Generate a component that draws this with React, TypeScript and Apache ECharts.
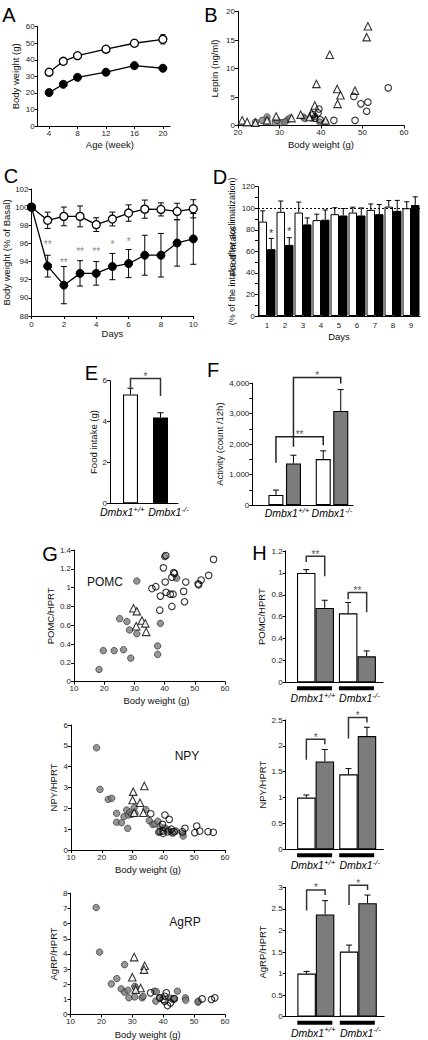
import React, { useEffect, useRef } from "react";
import * as echarts from "echarts";

const FONT = '"Liberation Sans", Arial, Helvetica, sans-serif';

// ===== Panel A: body weight vs age =====
const ageWeeks = [4, 6, 8, 12, 16, 20];
const ageTickValues = [4, 8, 12, 16, 20];
const aWtMean = [32.5, 39.1, 42.5, 46.4, 50.0, 52.4];
const aWtErr = [1.0, 1.0, 1.0, 1.2, 1.8, 2.8];
const aKoMean = [20.2, 25.2, 29.4, 32.5, 36.5, 34.9];
const aKoErr = [0.8, 1.0, 1.0, 1.0, 1.4, 1.4];

// ===== Panel B: leptin vs body weight [g, ng/ml] =====
const bTriangles = [
  [51.3, 17.4], [51.0, 15.5], [42.1, 12.4], [38.9, 7.3], [43.9, 6.4], [44.7, 5.3], [44.0, 3.8],
  [48.2, 6.1], [38.5, 3.5], [41.1, 0.9], [21.0, 0.9], [22.2, 0.6], [24.2, 0.5], [29.2, 1.6],
  [27.0, 0.9], [32.9, 1.3], [35.1, 1.9], [37.7, 2.2], [37.3, 1.5],
];
const bOpen = [
  [56.2, 6.6], [47.9, 5.1], [49.6, 3.8], [51.3, 4.1], [51.0, 2.5], [48.2, 0.9], [43.1, 0.9],
  [39.5, 2.9], [39.3, 2.2], [38.5, 1.3], [39.8, 1.0], [38.1, 1.9],
];
const bGray = [
  [27.0, 1.5], [27.0, 0.8], [25.8, 0.9], [24.2, 0.6], [29.0, 0.5], [30.6, 0.5], [31.9, 1.0],
  [32.5, 1.3], [35.7, 1.5], [36.1, 1.2], [37.7, 1.3], [38.5, 1.6], [39.7, 0.6], [41.0, 0.6],
  [29.4, 0.9], [31.3, 0.6],
];

// ===== Panel C: body weight (% of basal) over days =====
const cDays = [0, 1, 2, 3, 4, 5, 6, 7, 8, 9, 10];
const cWtMean = [100, 98.55, 98.98, 98.98, 98.07, 98.69, 99.35, 99.78, 99.75, 99.53, 99.82];
const cWtErr = [0, 0.9, 1.03, 1.15, 0.76, 0.76, 0.9, 1.0, 0.72, 0.9, 1.0];
const cKoMean = [100, 93.5, 91.4, 92.7, 92.7, 93.45, 93.78, 94.7, 94.7, 96.05, 96.5];
const cKoErr = [0, 1.2, 2.05, 1.4, 1.3, 1.45, 1.55, 2.2, 2.4, 2.55, 2.8];
const cSigDays = [1, 2, 3, 4, 5, 6];
const cSigY = [95.9, 93.9, 95.1, 95.1, 95.9, 96.2];
const cSigText = ["**", "**", "**", "**", "*", "*"];

// ===== Panel D: daily food intake (%) =====
const dDays = ["1", "2", "3", "4", "5", "6", "7", "8", "9"];
const dWtMean = [87.6, 96.7, 96, 89, 94.5, 96, 98.5, 101.5, 100];
const dWtErr = [10, 10, 9.7, 5.5, 6, 5, 5.5, 5.7, 6];
const dKoMean = [62, 66, 85, 89.4, 93.3, 93.3, 94.5, 97.6, 103];
const dKoErr = [10, 6.7, 6, 9, 6.4, 7, 9, 9.7, 7.6];
const dReference = 100;
const dSigIdx = [0, 1];
const dSigY = [77, 78];
const dSigText = ["*", "*"];
const dAxisTitle = ["Food intake", "(% of the intake after acclimatization)"];

// ===== genotype labels =====
const geneName = "Dmbx1";
const genotypes = ["+/+", "-/-"];
const groupPos = [1, 2];

// ===== Panel E: food intake (g) =====
const eMean = [5.33, 4.2];
const eErr = [0.3, 0.23];
const eBrackets = [[1, 0, 5.58, 2, 0, 5.25, 6.11]];
const eBracketText = ["*"];

// ===== Panel F: activity =====
const fWhiteMean = [330, 1510];
const fWhiteErr = [160, 270];
const fGrayMean = [1366, 3093];
const fGrayErr = [270, 700];
const fBrackets = [
  [1, 0, 1387, 2, 0, 1967, 2240],
  [1, 1, 1911, 2, 1, 3990, 4187],
];
const fBracketText = ["**", "*"];

// ===== Panel G: expression vs body weight =====
const gPomcGray = [
  [18.3, 0.13], [19.7, 0.33], [23.3, 0.33], [26.4, 0.34], [28.8, 0.25], [25.1, 0.67], [27.5, 0.64],
  [28.4, 0.55], [30.8, 0.51], [30.8, 1.07], [37.7, 0.38], [37.7, 0.29], [38.6, 0.62], [44.0, 1.1], [40.0, 1.33],
];
const gPomcTri = [[29.7, 0.78], [30.8, 0.75], [32.5, 0.65], [33.6, 0.62], [30.6, 0.59], [33.9, 0.53]];
const gPomcOpen = [
  [35.8, 0.99], [37.1, 1.01], [40.2, 1.06], [40.5, 0.95], [41.9, 0.93], [42.8, 0.93], [38.6, 0.91],
  [38.4, 0.76], [42.4, 0.8], [42.4, 1.11], [43.3, 1.15], [46.3, 0.96], [46.6, 0.85], [47.0, 1.06],
  [51.1, 1.04], [51.3, 1.03], [52.1, 1.08], [54.6, 1.13], [39.6, 1.21], [40.4, 1.34], [43.0, 1.16], [56.2, 1.3],
];
const gNpyGray = [
  [18.3, 4.91], [19.4, 2.91], [22.1, 2.43], [23.2, 2.48], [24.8, 1.76], [24.8, 1.33], [26.4, 1.31],
  [27.2, 1.6], [28.1, 1.92], [28.6, 1.68], [28.4, 1.04], [29.1, 1.81], [29.7, 1.71], [30.5, 2.03],
  [30.8, 1.76], [34.3, 1.94], [35.4, 1.41], [36.5, 1.23], [37.2, 1.25], [38.2, 1.38], [38.9, 1.12],
  [38.4, 0.85], [40.5, 1.06], [41.6, 0.96], [42.6, 0.85], [43.0, 0.88], [44.1, 0.91], [43.0, 0.8],
  [46.3, 0.8], [46.4, 0.67],
];
const gNpyTri = [[30.2, 2.8], [33.8, 3.07], [30.0, 2.4], [32.4, 2.27], [30.5, 1.79], [33.5, 1.79]];
const gNpyOpen = [
  [35.9, 1.74], [40.5, 1.68], [41.9, 1.47], [39.7, 1.23], [39.9, 0.91], [41.4, 0.88], [39.9, 0.8],
  [42.6, 1.0], [43.5, 0.88], [47.0, 1.04], [46.2, 0.88], [50.8, 1.15], [50.2, 0.83], [51.8, 0.91],
  [54.5, 0.88], [56.2, 0.85], [38.9, 0.88],
];
const gAgrpGray = [
  [18.3, 7.06], [19.4, 4.12], [23.2, 2.02], [25.0, 2.37], [27.5, 3.29], [26.4, 1.69], [27.5, 1.47],
  [28.6, 1.6], [28.9, 1.1], [30.8, 1.86], [31.1, 1.75], [30.8, 1.16], [33.2, 1.1], [33.5, 1.2],
  [37.2, 1.54], [37.8, 1.51], [37.6, 0.88], [38.9, 1.1], [42.6, 1.07], [43.2, 0.99], [43.7, 1.03],
  [44.6, 1.54], [47.2, 1.1], [47.3, 0.94], [51.3, 0.81], [51.3, 0.88],
];
const gAgrpTri = [[30.6, 3.79], [34.0, 3.22], [33.8, 2.96], [30.0, 2.46], [32.7, 1.75], [31.1, 1.64]];
const gAgrpOpen = [
  [35.9, 1.43], [41.0, 1.43], [38.9, 1.1], [40.5, 0.88], [41.4, 0.59], [42.4, 0.77], [43.5, 1.05],
  [40.5, 1.2], [52.6, 1.03], [55.6, 0.99], [56.7, 1.1], [40.0, 1.0],
];

// ===== Panel H: expression by genotype =====
const hPomcWhite = [1.0, 0.63];
const hPomcWhiteErr = [0.03, 0.1];
const hPomcGray = [0.68, 0.237];
const hPomcGrayErr = [0.07, 0.05];
const hPomcBrackets = [[1, 0, 1.1, 1, 1, 0.97, 1.152], [2, 0, 0.76, 2, 1, 0.64, 0.82]];
const hPomcBracketText = ["**", "**"];
const hNpyWhite = [1.0, 1.45];
const hNpyWhiteErr = [0.05, 0.11];
const hNpyGray = [1.7, 2.19];
const hNpyGrayErr = [0.23, 0.17];
const hNpyBrackets = [[1, 0, 1.73, 1, 1, 2.03, 2.13], [2, 0, 2.14, 2, 1, 2.45, 2.55]];
const hNpyBracketText = ["*", "*"];
const hAgrpWhite = [1.0, 1.51];
const hAgrpWhiteErr = [0.05, 0.15];
const hAgrpGray = [2.37, 2.63];
const hAgrpGrayErr = [0.32, 0.19];
const hAgrpBrackets = [[1, 0, 2.46, 1, 1, 2.82, 2.94], [2, 0, 2.59, 2, 1, 2.94, 3.05]];
const hAgrpBracketText = ["*", "*"];

// ---------------------------------------------------------------
const AX_LINE = { show: true, onZero: false, lineStyle: { color: "#000", width: 1 } };
const tickFont = { fontSize: 8, color: "#222", fontFamily: FONT };
const nameFont = { fontSize: 9.5, color: "#111", fontFamily: FONT };
const GRAY = "#7c7c7c";

function vAxis(grid: number, min: number, max: number, interval: number | undefined, name: string, nameGap: number, extra: any = {}) {
  return {
    type: "value",
    gridIndex: grid,
    min,
    max,
    interval,
    name,
    nameLocation: "middle",
    nameGap,
    nameTextStyle: { ...nameFont, ...(extra.nameTextStyle || {}) },
    axisLine: AX_LINE,
    axisTick: { show: true, length: 3, lineStyle: { color: "#000", width: 1 }, ...(extra.axisTick || {}) },
    axisLabel: { ...tickFont, margin: 3, hideOverlap: false, ...(extra.axisLabel || {}) },
    minorTick: extra.minorTick || { show: false },
    splitLine: { show: false },
  };
}

// genotype labels placed under each bar group (label positions in group units)
function genoLabel(labelPos: number[], margin: number) {
  return {
    customValues: labelPos,
    margin,
    hideOverlap: false,
    formatter: (v: number) => `{i|${geneName}}{s|${genotypes[v < 1.5 ? 0 : 1]}}`,
    rich: {
      i: { fontStyle: "italic", fontSize: 10.5, fontFamily: FONT, color: "#000", lineHeight: 14 },
      s: { fontStyle: "italic", fontSize: 8, fontFamily: FONT, color: "#000", lineHeight: 8, verticalAlign: "top" },
    },
  };
}

function errBars(grid: number, pts: number[][], offset: number, cap: number, both: boolean, z = 3) {
  return {
    type: "custom",
    xAxisIndex: grid,
    yAxisIndex: grid,
    z,
    clip: false,
    silent: true,
    encode: { x: 0, y: 1 },
    data: pts,
    renderItem: (_p: any, api: any) => {
      const x = api.value(0);
      const y = api.value(1);
      const e = api.value(2);
      const c = api.coord([x, y]);
      const t = api.coord([x, y + e]);
      const b = api.coord([x, y - e]);
      const cx = c[0] + offset;
      const st = { stroke: "#000", lineWidth: 1 };
      const children: any[] = [];
      if (e > 0) {
        children.push({ type: "line", shape: { x1: cx, y1: both ? b[1] : c[1], x2: cx, y2: t[1] }, style: st });
        children.push({ type: "line", shape: { x1: cx - cap, y1: t[1], x2: cx + cap, y2: t[1] }, style: st });
        if (both) children.push({ type: "line", shape: { x1: cx - cap, y1: b[1], x2: cx + cap, y2: b[1] }, style: st });
      }
      return { type: "group", children };
    },
  };
}

function sigTexts(grid: number, pts: number[][], labels: string[], offset: number, color: string, size = 10) {
  return {
    type: "custom",
    xAxisIndex: grid,
    yAxisIndex: grid,
    z: 5,
    clip: false,
    silent: true,
    encode: { x: 0, y: 1 },
    data: pts,
    renderItem: (p: any, api: any) => {
      const c = api.coord([api.value(0), api.value(1)]);
      return {
        type: "text",
        x: c[0] + offset,
        y: c[1],
        style: { text: labels[p.dataIndex], fontSize: size, fontFamily: FONT, fill: color, align: "center", verticalAlign: "middle" },
      };
    },
  };
}

function brackets(grid: number, items: number[][], labels: string[], offsets: number[], color: string, textColor: string) {
  return {
    type: "custom",
    xAxisIndex: grid,
    yAxisIndex: grid,
    z: 5,
    clip: false,
    silent: true,
    encode: { x: 0, y: 2 },
    data: items,
    renderItem: (p: any, api: any) => {
      const x1 = api.value(0), b1 = api.value(1), y1 = api.value(2);
      const x2 = api.value(3), b2 = api.value(4), y2 = api.value(5), yt = api.value(6);
      const p1 = api.coord([x1, y1]);
      const p2 = api.coord([x2, y2]);
      const pt = api.coord([x1, yt]);
      const X1 = p1[0] + offsets[b1];
      const X2 = p2[0] + offsets[b2];
      return {
        type: "group",
        children: [
          {
            type: "polyline",
            shape: { points: [[X1, p1[1]], [X1, pt[1]], [X2, pt[1]], [X2, p2[1]]] },
            style: { stroke: color, lineWidth: 1.5, fill: null },
          },
          {
            type: "text",
            x: (X1 + X2) / 2,
            y: pt[1] + 3,
            style: { text: labels[p.dataIndex], fontSize: 10, fontFamily: FONT, fill: textColor, align: "center", verticalAlign: "bottom" },
          },
        ],
      };
    },
  };
}

function underlines(grid: number, halfWidth: number) {
  return {
    type: "custom",
    xAxisIndex: grid,
    yAxisIndex: grid,
    z: 5,
    clip: false,
    silent: true,
    encode: { x: 0, y: 1 },
    data: groupPos.map((g) => [g, 0]),
    renderItem: (_p: any, api: any) => {
      const c = api.coord([api.value(0), 0]);
      return { type: "rect", shape: { x: c[0] - halfWidth - 1, y: c[1] + 4, width: halfWidth * 2, height: 4 }, style: { fill: "#000" } };
    },
  };
}

const openItem = { color: "#fff", borderColor: "#000", borderWidth: 1.1 };
const grayItem = { color: GRAY, borderColor: "#222", borderWidth: 0.8 };

function scatterSet(grid: number, gray: number[][], open: number[][], tri: number[][]) {
  return [
    { type: "scatter", xAxisIndex: grid, yAxisIndex: grid, data: gray, symbol: "circle", symbolSize: 6.5, itemStyle: grayItem, z: 2 },
    { type: "scatter", xAxisIndex: grid, yAxisIndex: grid, data: tri, symbol: "triangle", symbolSize: 7.5, itemStyle: openItem, z: 3 },
    { type: "scatter", xAxisIndex: grid, yAxisIndex: grid, data: open, symbol: "circle", symbolSize: 6.5, itemStyle: { ...openItem, color: "transparent" }, z: 4 },
  ];
}

function hBars(grid: number, white: number[], whiteErr: number[], gray: number[], grayErr: number[], br: number[][], brText: string[]) {
  const w = 18.5;
  const off = [-w / 2, w / 2];
  return [
    {
      type: "bar", xAxisIndex: grid, yAxisIndex: grid, barWidth: w, barGap: "0%",
      data: groupPos.map((g, i) => [g, white[i]]),
      itemStyle: { color: "#fff", borderColor: "#000", borderWidth: 1.1 },
    },
    {
      type: "bar", xAxisIndex: grid, yAxisIndex: grid, barWidth: w, barGap: "0%",
      data: groupPos.map((g, i) => [g, gray[i]]),
      itemStyle: { color: GRAY, borderColor: "#000", borderWidth: 1.1 },
    },
    errBars(grid, groupPos.map((g, i) => [g, white[i], whiteErr[i]]), off[0], 3, false),
    errBars(grid, groupPos.map((g, i) => [g, gray[i], grayErr[i]]), off[1], 3, false),
    brackets(grid, br, brText, off, "#333", "#555"),
    underlines(grid, 17.5),
  ];
}

function buildOption() {
  const grids = [
    { left: 37.7, top: 26.7, width: 132.3, height: 99.3 }, // A
    { left: 238, top: 11.5, width: 166, height: 114 }, // B
    { left: 31.5, top: 189, width: 161.8, height: 127 }, // C
    { left: 258, top: 186.7, width: 162, height: 129.3 }, // D
    { left: 110, top: 380.7, width: 68, height: 122.6 }, // E
    { left: 252.3, top: 383.3, width: 100.7, height: 121.7 }, // F
    { left: 74, top: 550, width: 151, height: 131.7 }, // G POMC
    { left: 71, top: 725, width: 154, height: 125 }, // G NPY
    { left: 70.5, top: 893.3, width: 154.5, height: 121.7 }, // G AgRP
    { left: 285.7, top: 551, width: 97.3, height: 131.3 }, // H POMC
    { left: 285.7, top: 720, width: 97.7, height: 129.3 }, // H NPY
    { left: 285.7, top: 887.3, width: 98.5, height: 129.4 }, // H AgRP
  ].map((g) => ({ ...g, containLabel: false }));

  const hLabelPos = [0.94, 2.05];
  const xAxis: any[] = [
    vAxis(0, 2.4, 21, undefined, "Age (week)", 13.5, {
      axisLabel: { customValues: ageTickValues },
      axisTick: { customValues: ageTickValues },
      nameTextStyle: { padding: [0, 0, 0, 12] },
    }),
    vAxis(1, 20, 60, 10, "Body weight (g)", 13.5),
    vAxis(2, 0, 10, 2, "Days", 11.5, { axisLabel: { margin: 4 } }),
    {
      type: "category",
      gridIndex: 3,
      data: dDays,
      name: "Days",
      nameLocation: "middle",
      nameGap: 15.5,
      nameTextStyle: nameFont,
      axisLine: AX_LINE,
      axisTick: { show: false },
      axisLabel: { ...tickFont, margin: 5 },
      splitLine: { show: false },
    },
    vAxis(4, 0.317, 2.583, undefined, "", 0, { axisTick: { show: false }, axisLabel: genoLabel([0.73, 2.27], 2) }),
    vAxis(5, 0.315, 2.444, undefined, "", 0, { axisTick: { show: false }, axisLabel: genoLabel([1.05, 2.0], 1) }),
    vAxis(6, 10, 60, 10, "Body weight (g)", 13.5, { nameTextStyle: { padding: [0, 0, 0, 14] } }),
    vAxis(7, 10, 60, 10, "Body weight (g)", 14.5),
    vAxis(8, 10, 60, 10, "Body weight (g)", 14.5),
    vAxis(9, 0.29, 2.61, undefined, "", 0, { axisTick: { show: false }, axisLabel: genoLabel(hLabelPos, 9) }),
    vAxis(10, 0.29, 2.61, undefined, "", 0, { axisTick: { show: false }, axisLabel: genoLabel(hLabelPos, 9) }),
    vAxis(11, 0.29, 2.61, undefined, "", 0, { axisTick: { show: false }, axisLabel: genoLabel(hLabelPos, 9) }),
  ];

  const yAxis: any[] = [
    vAxis(0, 0, 60, 10, "Body weight (g)", 17),
    vAxis(1, 0, 20, 5, "Leptin (ng/ml)", 18.5),
    vAxis(2, 88, 102, 2, "Body weight (% of Basal)", 17),
    {
      ...vAxis(3, 0, 120, 20, dAxisTitle[0], 11.5, {
        minorTick: { show: true, splitNumber: 2, length: 3, lineStyle: { color: "#000" } },
      }),
      position: "left",
    },
    vAxis(4, 0, 6, 2, "Food intake (g)", 11.5),
    vAxis(5, 0, 4000, 1000, "Activity (count /12h)", 28, {
      minorTick: { show: true, splitNumber: 2, length: 3, lineStyle: { color: "#000" } },
    }),
    vAxis(6, 0, 1.4, 0.2, "POMC/HPRT", 15.5),
    vAxis(7, 0, 6, 1, "NPY/HPRT", 12.5),
    vAxis(8, 0, 8, 1, "AgRP/HPRT", 12.5),
    vAxis(9, 0, 1.2, 0.2, "POMC/HPRT", 19),
    vAxis(10, 0, 2.5, 0.5, "NPY/HPRT", 14),
    vAxis(11, 0, 3, 0.5, "AgRP/HPRT", 14.5),
    // second title line of panel D (name only)
    {
      type: "value",
      gridIndex: 3,
      position: "left",
      offset: 0,
      min: 0,
      max: 120,
      name: dAxisTitle[1],
      nameLocation: "middle",
      nameGap: 22,
      nameTextStyle: { ...nameFont, fontSize: 9 },
      axisLine: { show: false },
      axisTick: { show: false },
      axisLabel: { show: false },
      splitLine: { show: false },
    },
  ];

  const series: any[] = [
    // A
    errBars(0, ageWeeks.map((x, i) => [x, aWtMean[i], aWtErr[i]]), 0, 2.5, true, 1),
    errBars(0, ageWeeks.map((x, i) => [x, aKoMean[i], aKoErr[i]]), 0, 2.5, true, 1),
    {
      type: "line", xAxisIndex: 0, yAxisIndex: 0, z: 3,
      data: ageWeeks.map((x, i) => [x, aWtMean[i]]),
      symbol: "circle", symbolSize: 8,
      lineStyle: { color: "#000", width: 1.3 },
      itemStyle: { color: "#fff", borderColor: "#000", borderWidth: 1.3 },
    },
    {
      type: "line", xAxisIndex: 0, yAxisIndex: 0, z: 3,
      data: ageWeeks.map((x, i) => [x, aKoMean[i]]),
      symbol: "circle", symbolSize: 8,
      lineStyle: { color: "#000", width: 1.3 },
      itemStyle: { color: "#000", borderColor: "#000", borderWidth: 1 },
    },
    // B
    ...scatterSet(1, bGray, bOpen, bTriangles),
    // C
    errBars(2, cDays.map((x, i) => [x, cWtMean[i], cWtErr[i]]), 0, 3, true, 1),
    errBars(2, cDays.map((x, i) => [x, cKoMean[i], cKoErr[i]]), 0, 3, true, 1),
    {
      type: "line", xAxisIndex: 2, yAxisIndex: 2, z: 3,
      data: cDays.map((x, i) => [x, cWtMean[i]]),
      symbol: "circle", symbolSize: 8,
      lineStyle: { color: "#000", width: 1.3 },
      itemStyle: { color: "#fff", borderColor: "#000", borderWidth: 1.3 },
    },
    {
      type: "line", xAxisIndex: 2, yAxisIndex: 2, z: 3,
      data: cDays.map((x, i) => [x, cKoMean[i]]),
      symbol: "circle", symbolSize: 8,
      lineStyle: { color: "#000", width: 1.3 },
      itemStyle: { color: "#000", borderColor: "#000", borderWidth: 1 },
    },
    sigTexts(2, cSigDays.map((d, i) => [d, cSigY[i]]), cSigText, 0, "#888", 10),
    // D
    {
      type: "bar", xAxisIndex: 3, yAxisIndex: 3, barWidth: 8.5, barGap: "0%",
      data: dWtMean,
      itemStyle: { color: "#fff", borderColor: "#000", borderWidth: 1 },
      markLine: {
        silent: true, symbol: "none", label: { show: false },
        lineStyle: { color: "#000", type: [2, 2], width: 1 },
        data: [{ yAxis: dReference }],
      },
    },
    {
      type: "bar", xAxisIndex: 3, yAxisIndex: 3, barWidth: 8.5, barGap: "0%",
      data: dKoMean,
      itemStyle: { color: "#000", borderColor: "#000", borderWidth: 1 },
    },
    errBars(3, dWtMean.map((v, i) => [i, v, dWtErr[i]]), -4.25, 2.5, false),
    errBars(3, dKoMean.map((v, i) => [i, v, dKoErr[i]]), 4.25, 2.5, false),
    sigTexts(3, dSigIdx.map((c, i) => [c, dSigY[i]]), dSigText, 4.25, "#333", 10),
    // E
    {
      type: "bar", xAxisIndex: 4, yAxisIndex: 4, barWidth: 15,
      data: groupPos.map((g, i) => ({
        value: [g, eMean[i]],
        itemStyle: i === 0 ? { color: "#fff", borderColor: "#000", borderWidth: 1.1 } : { color: "#000", borderColor: "#000", borderWidth: 1.1 },
      })),
    },
    errBars(4, groupPos.map((g, i) => [g, eMean[i], eErr[i]]), 0, 3, false),
    brackets(4, eBrackets, eBracketText, [0], "#333", "#555"),
    // F
    {
      type: "bar", xAxisIndex: 5, yAxisIndex: 5, barWidth: 15, barGap: "17%",
      data: groupPos.map((g, i) => [g, fWhiteMean[i]]),
      itemStyle: { color: "#fff", borderColor: "#000", borderWidth: 1.1 },
    },
    {
      type: "bar", xAxisIndex: 5, yAxisIndex: 5, barWidth: 15, barGap: "17%",
      data: groupPos.map((g, i) => [g, fGrayMean[i]]),
      itemStyle: { color: GRAY, borderColor: "#000", borderWidth: 1.1 },
    },
    errBars(5, groupPos.map((g, i) => [g, fWhiteMean[i], fWhiteErr[i]]), -8.75, 3, false),
    errBars(5, groupPos.map((g, i) => [g, fGrayMean[i], fGrayErr[i]]), 8.75, 3, false),
    brackets(5, fBrackets, fBracketText, [-8.75, 8.75], "#222", "#555"),
    // G
    ...scatterSet(6, gPomcGray, gPomcOpen, gPomcTri),
    ...scatterSet(7, gNpyGray, gNpyOpen, gNpyTri),
    ...scatterSet(8, gAgrpGray, gAgrpOpen, gAgrpTri),
    // H
    ...hBars(9, hPomcWhite, hPomcWhiteErr, hPomcGray, hPomcGrayErr, hPomcBrackets, hPomcBracketText),
    ...hBars(10, hNpyWhite, hNpyWhiteErr, hNpyGray, hNpyGrayErr, hNpyBrackets, hNpyBracketText),
    ...hBars(11, hAgrpWhite, hAgrpWhiteErr, hAgrpGray, hAgrpGrayErr, hAgrpBrackets, hAgrpBracketText),
  ];

  const letter = (t: string, x: number, y: number) => ({
    type: "text", x, y, silent: true,
    style: { text: t, fontSize: 20, fontFamily: FONT, fill: "#000", align: "center", verticalAlign: "middle" },
  });
  const inner = (t: string, x: number, y: number) => ({
    type: "text", x, y, silent: true,
    style: { text: t, fontSize: 12, fontFamily: FONT, fill: "#111", align: "center", verticalAlign: "middle" },
  });

  return {
    animation: false,
    backgroundColor: "#fff",
    grid: grids,
    xAxis,
    yAxis,
    series,
    graphic: [
      letter("A", 9, 15),
      letter("B", 211, 15),
      letter("C", 11, 176),
      letter("D", 220, 177),
      letter("E", 91.5, 372.5),
      letter("F", 213, 370),
      letter("G", 50, 553.5),
      letter("H", 259.5, 552.5),
      inner("POMC", 105, 582),
      inner("NPY", 187, 756),
      inner("AgRP", 185, 922),
    ],
  };
}

export default function App() {
  const ref = useRef<HTMLDivElement>(null);
  useEffect(() => {
    if (!ref.current) return;
    const chart = echarts.init(ref.current, null, { renderer: "svg" });
    chart.setOption(buildOption() as any);
    return () => chart.dispose();
  }, []);
  return <div ref={ref} style={{ position: "absolute", left: 0, top: 0, width: 428, height: 1040, background: "#fff" }} />;
}
